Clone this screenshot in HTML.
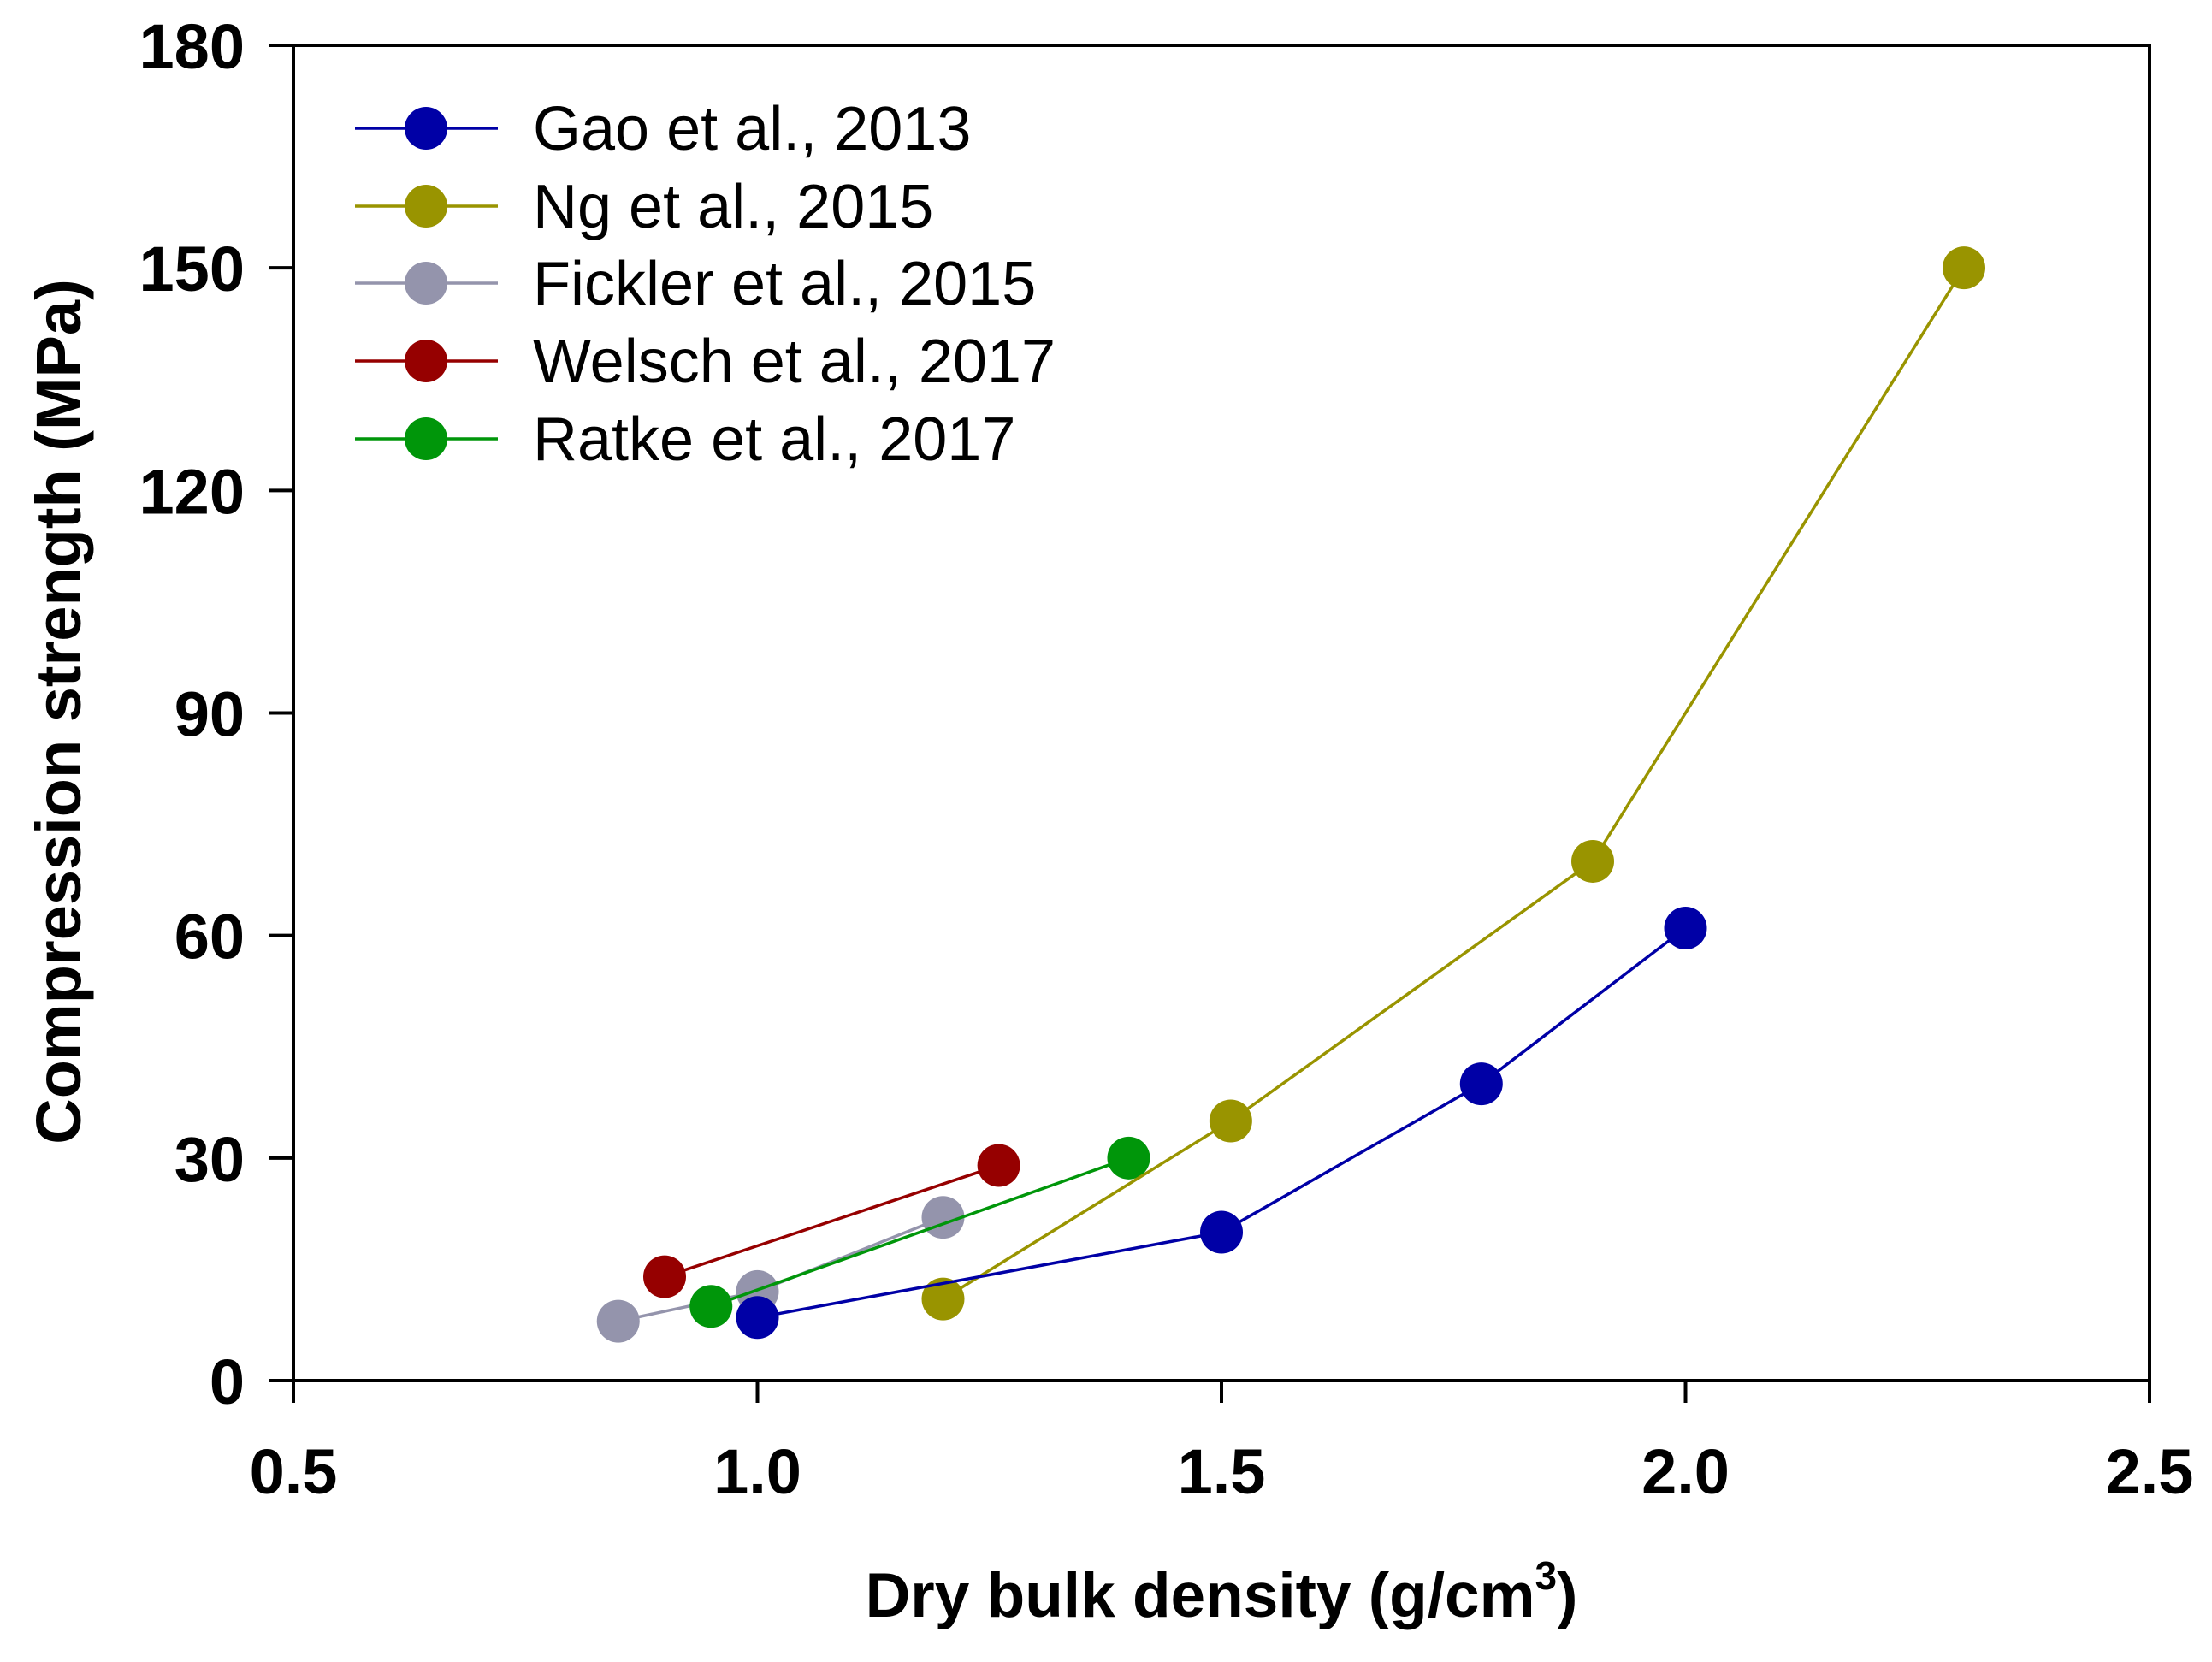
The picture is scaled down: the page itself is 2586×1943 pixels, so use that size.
<!DOCTYPE html>
<html><head><meta charset="utf-8"><style>
html,body{margin:0;padding:0;background:#fff;}
svg{display:block;font-family:"Liberation Sans",Arial,sans-serif;}
</style></head><body>
<svg id="chart" width="2586" height="1943" viewBox="0 0 2586 1943">
<g id="axes"></g>
<g id="series"></g>
<g id="legend"></g>
<text x="1428" y="1890" text-anchor="middle" font-size="73" font-weight="bold">Dry bulk density (g/cm<tspan font-size="46" dy="-32">3</tspan><tspan dy="32">)</tspan></text>
<text transform="translate(94,832) rotate(-90)" text-anchor="middle" font-size="74" font-weight="bold">Compression strength (MPa)</text>
</svg>
<script>
const seriesNames = ["Gao et al., 2013","Ng et al., 2015","Fickler et al., 2015","Welsch et al., 2017","Ratke et al., 2017"];
const seriesColors = ["#0000a6","#999400","#9494ac","#960000","#00960a"];
const gaoX = [1.0,1.5,1.78,2.0];
const gaoY = [8.5,20,40,61];
const ngX = [1.2,1.51,1.9,2.3];
const ngY = [11,35,70,150];
const ficklerX = [0.85,1.0,1.2];
const ficklerY = [8,12,22];
const welschX = [0.9,1.26];
const welschY = [14,29];
const ratkeX = [0.95,1.4];
const ratkeY = [10,30];
const xTicks = [0.5,1.0,1.5,2.0,2.5];
const xTickLabels = ["0.5","1.0","1.5","2.0","2.5"];
const yTicks = [0,30,60,90,120,150,180];
const yTickLabels = ["0","30","60","90","120","150","180"];

const L=343,R=2513,T=53,B=1614;
const xMin=0.5,xMax=2.5,yMin=0,yMax=180;
function sx(v){return L+(v-xMin)/(xMax-xMin)*(R-L);}
function sy(v){return B-(v-yMin)/(yMax-yMin)*(B-T);}
const NS="http://www.w3.org/2000/svg";
function mk(tag,attrs,parent){const e=document.createElementNS(NS,tag);for(const k in attrs)e.setAttribute(k,attrs[k]);parent.appendChild(e);return e;}

const axes=document.getElementById('axes');
const frame=mk('rect',{x:L,y:T,width:R-L,height:B-T,fill:'none',stroke:'#000','stroke-width':4},axes);


xTicks.forEach((t,i)=>{
  const ln=mk('line',{x1:sx(t),x2:sx(t),y1:B,y2:B+26,stroke:'#000','stroke-width':4},axes);
  
  
  const tx=mk('text',{x:sx(t),y:1746,'text-anchor':'middle','font-size':74,'font-weight':'bold'},axes);
  
  
  tx.textContent=xTickLabels[i];
});
yTicks.forEach((t,i)=>{
  const ln=mk('line',{x1:L-28,x2:L,y1:sy(t),y2:sy(t),stroke:'#000','stroke-width':4},axes);
  
  
  const tx=mk('text',{x:286,y:sy(t)+27,'text-anchor':'end','font-size':74,'font-weight':'bold'},axes);
  
  
  tx.textContent=yTickLabels[i];
});

const allX=[gaoX,ngX,ficklerX,welschX,ratkeX];
const allY=[gaoY,ngY,ficklerY,welschY,ratkeY];
const seriesG=document.getElementById('series');
const order=[2,3,4,1,0];
order.forEach(s=>{
  const g=mk('g',{},seriesG);
  
  
  const pts=allX[s].map((x,i)=>sx(x)+','+sy(allY[s][i])).join(' ');
  const pl=mk('polyline',{points:pts,fill:'none',stroke:seriesColors[s],'stroke-width':3.5},g);
  
  
  allX[s].forEach((x,i)=>{
    const c=mk('circle',{cx:sx(x),cy:sy(allY[s][i]),r:25,fill:seriesColors[s]},g);
    
    
  });
});

const leg=document.getElementById('legend');
const legY=[150,241,331,422,513];
seriesNames.forEach((n,i)=>{
  const g=mk('g',{},leg);
  
  
  const ln=mk('line',{x1:415,x2:582,y1:legY[i],y2:legY[i],stroke:seriesColors[i],'stroke-width':3.5},g);
  
  
  const c=mk('circle',{cx:498,cy:legY[i],r:25,fill:seriesColors[i]},g);
  
  
  const t=mk('text',{x:623,y:legY[i]+25,'font-size':72},g);
  
  
  t.textContent=n;
});
</script>
</body></html>
